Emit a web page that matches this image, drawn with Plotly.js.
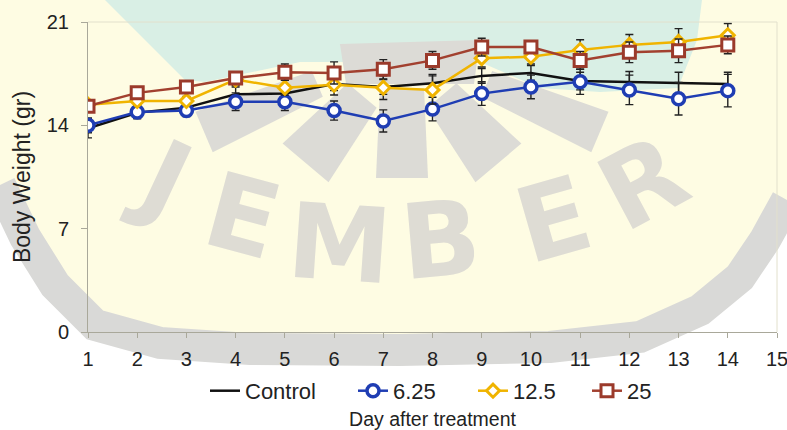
<!DOCTYPE html>
<html>
<head>
<meta charset="utf-8">
<script src="https://cdn.plot.ly/plotly-3.0.1.min.js"></script>
<style>
  html, body { margin: 0; padding: 0; background: #ffffff; }
  #chart { width: 787px; height: 430px; }
</style>
</head>
<body>
<div id="chart"></div>
<script>
// Mean body weight (gr) per day after treatment
const days = [1, 2, 3, 4, 5, 6, 7, 8, 9, 10, 11, 12, 13, 14];
const seriesNames = ['Control', '6.25', '12.5', '25'];

const control  = [13.8, 14.85, 15.2, 16.1, 16.15, 16.8, 16.6, 16.85, 17.35, 17.55, 17.0, 16.95, 16.85, 16.8];
const dose625  = [14.0, 14.9, 15.0, 15.6, 15.6, 15.0, 14.3, 15.1, 16.15, 16.6, 16.95, 16.4, 15.8, 16.35];
const dose125  = [15.4, 15.65, 15.65, 17.1, 16.55, 16.75, 16.55, 16.4, 18.55, 18.65, 19.1, 19.45, 19.65, 20.1];
const dose25   = [15.3, 16.2, 16.6, 17.2, 17.6, 17.55, 17.8, 18.4, 19.3, 19.3, 18.4, 18.95, 19.05, 19.45];

// Standard deviations (error bars)
const controlSd = [0.65, 0.35, 0.3, 0.5, 0.4, 0.45, 0.5, 0.6, 0.5, 0.5, 0.6, 0.7, 0.75, 0.8];
const dose625Sd = [0.5, 0.45, 0.4, 0.6, 0.6, 0.65, 0.75, 0.8, 0.8, 0.8, 0.85, 1.0, 1.1, 1.1];
const dose125Sd = [0.3, 0.3, 0.3, 0.4, 0.5, 0.7, 0.8, 0.95, 0.6, 0.5, 0.7, 0.7, 0.9, 0.8];
const dose25Sd  = [0.4, 0.4, 0.4, 0.4, 0.55, 0.75, 0.65, 0.6, 0.6, 0.4, 0.6, 0.7, 0.8, 0.6];

const xTicks = [1, 2, 3, 4, 5, 6, 7, 8, 9, 10, 11, 12, 13, 14, 15];
const yTicks = [0, 7, 14, 21];

const FONT = 'Liberation Sans, Arial, sans-serif';
const TXT = '#222222';
const errStyle = sd => ({ type: 'data', array: sd, visible: true, color: '#222222', thickness: 1.4, width: 4 });

const traces = [
  {
    x: days, y: control, name: seriesNames[0], legend: 'legend', type: 'scatter', mode: 'lines',
    line: { color: '#111111', width: 2.5 },
    error_y: errStyle(controlSd)
  },
  {
    x: days, y: dose625, name: seriesNames[1], legend: 'legend2', type: 'scatter', mode: 'lines+markers',
    line: { color: '#1f3db3', width: 2.5 },
    marker: { symbol: 'circle', size: 12, color: '#ffffff', line: { color: '#1f3db3', width: 3.5 } },
    error_y: errStyle(dose625Sd)
  },
  {
    x: days, y: dose125, name: seriesNames[2], legend: 'legend3', type: 'scatter', mode: 'lines+markers',
    line: { color: '#f0b400', width: 2.5 },
    marker: { symbol: 'diamond', size: 10, color: '#ffffff', line: { color: '#f0b400', width: 3 } },
    error_y: errStyle(dose125Sd)
  },
  {
    x: days, y: dose25, name: seriesNames[3], legend: 'legend4', type: 'scatter', mode: 'lines+markers',
    line: { color: '#a2402f', width: 2.5 },
    marker: { symbol: 'square', size: 12, color: '#ffffff', line: { color: '#9b3a2b', width: 3 } },
    error_y: errStyle(dose25Sd)
  }
];

// ---- faint logo watermark behind the plot (drawn in page pixels) ----
const L = 88, T = 22, W = 689, H = 310;
const toPaper = ([x, y]) => [(x - L) / W, (T + H - y) / H];
const pathOf = (pts, close) =>
  pts.map((p, i) => { const q = toPaper(p); return (i ? 'L' : 'M') + q[0].toFixed(4) + ',' + q[1].toFixed(4); }).join(' ') + (close ? ' Z' : '');

const arcLine = [[0, 185], [25, 237], [55, 285], [95, 325], [160, 343], [250, 349], [400, 350], [550, 347], [640, 337], [700, 310], [740, 277], [765, 240], [787, 200]];
const shieldPts = [[0, 0], [787, 0]].concat(arcLine.slice().reverse());
const tealPts = [[105, 0], [702, 0], [697, 40], [678, 88], [600, 92], [540, 88], [480, 62], [300, 62], [205, 82], [185, 80], [140, 35]];

// petals radiating from a hub
const hub = [402, 48];
const petal = (angDeg, r1, r2, w1, w2) => {
  const a = angDeg * Math.PI / 180;
  const dx = Math.sin(a), dy = Math.cos(a), nx = Math.cos(a), ny = -Math.sin(a);
  const c1 = [hub[0] + dx * r1, hub[1] + dy * r1], c2 = [hub[0] + dx * r2, hub[1] + dy * r2];
  return [
    [c1[0] - nx * w1 / 2, c1[1] - ny * w1 / 2], [c2[0] - nx * w2 / 2, c2[1] - ny * w2 / 2],
    [c2[0] + nx * w2 / 2, c2[1] + ny * w2 / 2], [c1[0] + nx * w1 / 2, c1[1] + ny * w1 / 2]
  ];
};
const hubPts = [[340, 44], [480, 40], [474, 84], [346, 84]];
const petals = [petal(0, 40, 130, 44, 52), petal(40, 62, 150, 38, 60), petal(-40, 62, 150, 38, 60),
                petal(67, 92, 215, 28, 44), petal(-67, 92, 215, 28, 44)];

const wmGray = '#dcdbd6';
const below = (path, fill) => ({ type: 'path', xref: 'paper', yref: 'paper', layer: 'below', path: path, fillcolor: fill, line: { width: 0 } });
const shapes = [
  below(pathOf(shieldPts, true), '#fefce3'),
  below(pathOf(tealPts, true), '#d9efe5'),
  below(pathOf(hubPts, true), wmGray)
].concat(petals.map(p => below(pathOf(p, true), wmGray)))
 .concat([
  { type: 'path', xref: 'paper', yref: 'paper', layer: 'below', path: pathOf(arcLine, false), line: { color: '#d9d9d7', width: 32 } },
  // light frame on the top and right of the plot area
  { type: 'line', xref: 'paper', yref: 'paper', x0: 0, x1: 1, y0: 1, y1: 1, line: { color: '#e2e0cc', width: 1 } },
  { type: 'line', xref: 'paper', yref: 'paper', x0: 1, x1: 1, y0: 0, y1: 1, line: { color: '#e2e0cc', width: 1 } }
]);

const letters = [['J', 163, 178, 25], ['E', 242, 216, 15], ['M', 340, 244, 4], ['B', 440, 240, -5], ['E', 553, 220, -16], ['R', 643, 183, -28]];
const annotations = letters.map(([ch, x, y, ang]) => {
  const p = toPaper([x, y]);
  return { text: ch, xref: 'paper', yref: 'paper', x: p[0], y: p[1], xanchor: 'center', yanchor: 'middle',
           showarrow: false, textangle: ang, font: { family: 'DejaVu Sans, sans-serif', size: 104, weight: 'bold', color: '#dedcd4' } };
});

// one legend box per series so each entry sits at its own spot in the row
const legendAt = left => ({
  orientation: 'h', x: (left - L) / W, xanchor: 'left', y: -0.19, yanchor: 'middle',
  font: { family: FONT, size: 22, color: TXT }, bgcolor: 'rgba(0,0,0,0)', borderwidth: 0, itemwidth: 30
});

const layout = {
  width: 787, height: 430,
  margin: { l: L, r: 787 - L - W, t: T, b: 430 - T - H },
  paper_bgcolor: '#ffffff',
  plot_bgcolor: 'rgba(0,0,0,0)',
  font: { family: FONT, size: 20, color: TXT },
  showlegend: true,
  legend: legendAt(205),
  legend2: legendAt(353),
  legend3: legendAt(473),
  legend4: legendAt(587),
  xaxis: {
    range: [1, 15], tickvals: xTicks, ticktext: xTicks.map(String),
    showgrid: false, zeroline: false, showline: true, linecolor: '#a9a89a', linewidth: 1,
    ticks: 'outside', ticklen: 5, tickcolor: '#a9a89a', ticklabelstandoff: 4, ticklabeloverflow: 'allow',
    tickfont: { family: FONT, size: 20, color: TXT },
    title: { text: 'Day after treatment', font: { family: FONT, size: 19.5, color: TXT }, standoff: 46 },
    fixedrange: true
  },
  yaxis: {
    range: [0, 21], tickvals: yTicks, ticktext: yTicks.map(String),
    showgrid: false, zeroline: false, showline: true, linecolor: '#a9a89a', linewidth: 1,
    ticks: 'outside', ticklen: 6, tickcolor: '#a9a89a', ticklabelstandoff: 8,
    tickfont: { family: FONT, size: 20, color: TXT },
    title: { text: 'Body Weight (gr)', font: { family: FONT, size: 23, color: TXT }, standoff: 9 },
    fixedrange: true
  },
  shapes: shapes,
  annotations: annotations
};

Plotly.newPlot('chart', traces, layout, { displayModeBar: false, staticPlot: true });
</script>
</body>
</html>
